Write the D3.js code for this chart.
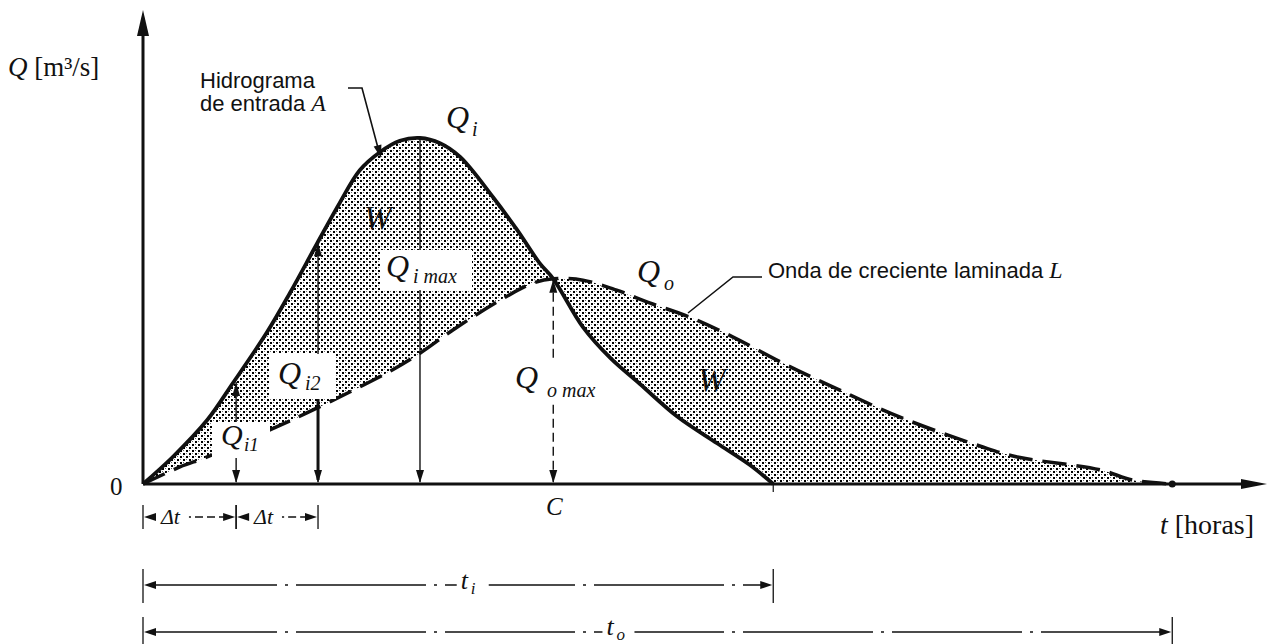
<!DOCTYPE html>
<html>
<head>
<meta charset="utf-8">
<script src="https://cdnjs.cloudflare.com/ajax/libs/d3/7.8.5/d3.min.js"></script>
<style>
  body { margin: 0; background: #fff; }
  svg { display: block; }
  .sans { font-family: "Liberation Sans", Arial, sans-serif; }
  .ser { font-family: "Liberation Serif", "Times New Roman", serif; }
</style>
</head>
<body>
<div id="main"></div>
<script>

// inflow hydrograph A  (t in hours, Q in m3/s)
var tIn = [0, 0.37, 0.80, 1.12, 1.54, 1.83, 2.17, 2.45, 2.70, 2.95, 3.20, 3.45, 3.70, 3.95, 4.36, 4.66, 4.94, 5.11, 5.48, 5.82, 6.19, 6.65, 7.15, 7.56, 7.85];
var qIn = [0, 5.7, 13.5, 21.3, 31.9, 40.3, 50.8, 59.3, 66.2, 70.0, 72.4, 73.0, 71.9, 69.0, 60.5, 53.6, 46.6, 43.3, 33.1, 26.6, 21.1, 14.3, 8.6, 4.0, 0];

// laminated flood wave L
var tOut = [0, 0.46, 0.80, 1.58, 2.04, 2.62, 3.11, 3.45, 3.86, 4.45, 4.86, 5.11, 5.48, 5.90, 6.31, 6.81, 7.35, 7.97, 8.59, 9.43, 10.46, 10.89, 11.92, 12.33, 12.82];
var qOut = [0, 3.6, 5.7, 11.4, 15.0, 19.8, 24.1, 27.6, 32.5, 38.8, 42.4, 43.3, 43.0, 40.9, 38.2, 35.2, 31.0, 25.5, 20.5, 14.1, 7.8, 5.7, 3.0, 0.8, 0];

// ordinates: Qi1, Qi2, Qi max, Qo max
var ordT = [1.16, 2.18, 3.45, 5.11];
var ordQ = [21.5, 51.0, 73.0, 43.3];

// dimension marks
var dtTicks = [0, 1.16, 2.18];
var tiEnd = 7.85;
var toEnd = 12.82;

var W = 1270, H = 644;

var svg = d3.select("#main").append("svg")
  .attr("width", W)
  .attr("height", H);

var x = d3.scaleLinear().domain([0, 14]).range([143, 1267]);
var y = d3.scaleLinear().domain([0, 100]).range([484, 10]);

var ink = "#111";

// stipple pattern for the W areas
var defs = svg.append("defs");
var pat = defs.append("pattern")
  .attr("id", "dots")
  .attr("patternUnits", "userSpaceOnUse")
  .attr("width", 6)
  .attr("height", 6);
pat.append("rect").attr("x", 0).attr("y", 0).attr("width", 2).attr("height", 2).attr("fill", "#000");
pat.append("rect").attr("x", 3).attr("y", 3).attr("width", 2).attr("height", 2).attr("fill", "#000");
pat.append("rect").attr("x", 3).attr("y", 0).attr("width", 1).attr("height", 1).attr("fill", "#666");
pat.append("rect").attr("x", 0).attr("y", 3).attr("width", 1).attr("height", 1).attr("fill", "#777");

var inPts = tIn.map(function(t, i) { return [t, qIn[i]]; });
var outPts = tOut.map(function(t, i) { return [t, qOut[i]]; });

var smooth = d3.curveCatmullRom.alpha(0.5);

var area = d3.area()
  .x(function(d) { return x(d[0]); })
  .y0(y(0))
  .y1(function(d) { return y(d[1]); })
  .curve(smooth);

var line = d3.line()
  .x(function(d) { return x(d[0]); })
  .y(function(d) { return y(d[1]); })
  .curve(smooth);

// area between the two waves = symmetric difference of the areas under them
svg.append("path")
  .attr("d", area(inPts) + area(outPts))
  .attr("fill", "url(#dots)")
  .attr("fill-rule", "evenodd");

// arrow head helper, tip at (px,py), pointing along angle (deg)
function head(px, py, ang, len, half, col) {
  var a = ang * Math.PI / 180;
  var dx = Math.cos(a), dy = Math.sin(a);
  var bx = px - dx * len, by = py - dy * len;
  var pts = [[px, py], [bx - dy * half, by + dx * half], [bx + dy * half, by - dx * half]];
  svg.append("polygon")
    .attr("points", pts.map(function(p) { return p.join(","); }).join(" "))
    .attr("fill", col || ink);
}

// axes
svg.append("line")
  .attr("x1", x(0)).attr("y1", y(0))
  .attr("x2", x(0)).attr("y2", 30)
  .attr("stroke", ink).attr("stroke-width", 3);
head(x(0), 10, -90, 26, 6);

svg.append("line")
  .attr("x1", x(0)).attr("y1", y(0))
  .attr("x2", 1245).attr("y2", y(0))
  .attr("stroke", ink).attr("stroke-width", 3);
head(1267, y(0), 0, 26, 5);

// small tick where the inflow ends
svg.append("line")
  .attr("x1", x(tiEnd)).attr("y1", y(0))
  .attr("x2", x(tiEnd)).attr("y2", y(0) + 8)
  .attr("stroke", ink).attr("stroke-width", 1.2);

// ordinates
ordT.forEach(function(t, i) {
  var px = x(t);
  var top = y(ordQ[i]);
  var l = svg.append("line")
    .attr("x1", px).attr("y1", top)
    .attr("x2", px).attr("y2", y(0) - 2)
    .attr("stroke", ink)
    .attr("stroke-width", 1.4);
  if (i == 3) l.attr("stroke-dasharray", "9,5");
  if (i == 1) {
    // lower part of Qi2 drawn heavy
    svg.append("line")
      .attr("x1", px).attr("y1", 398)
      .attr("x2", px).attr("y2", y(0) - 4)
      .attr("stroke", ink).attr("stroke-width", 3);
  }
  head(px, y(0) - 1, 90, 13, 4);
  if (i != 2) head(px, top + 1, -90, 13, 4);
});

// waves
svg.append("path")
  .attr("d", line(outPts))
  .attr("fill", "none")
  .attr("stroke", ink)
  .attr("stroke-width", 3.5)
  .attr("stroke-dasharray", "24,10");

svg.append("path")
  .attr("d", line(inPts))
  .attr("fill", "none")
  .attr("stroke", ink)
  .attr("stroke-width", 3.8);

svg.append("circle")
  .attr("cx", x(toEnd)).attr("cy", y(0))
  .attr("r", 3.5).attr("fill", ink);

// white boxes behind the ordinate labels
var boxes = [[212, 422, 58, 36], [270, 354, 66, 45], [380, 250, 92, 40], [510, 362, 90, 40]];
boxes.forEach(function(b) {
  svg.append("rect")
    .attr("x", b[0]).attr("y", b[1])
    .attr("width", b[2]).attr("height", b[3])
    .attr("fill", "#fff");
});

// label with italic main letter and subscript
function lab(px, py, main, sub, sx, sy, size, subSize) {
  var t = svg.append("text")
    .attr("class", "ser")
    .attr("fill", ink)
    .attr("font-style", "italic");
  t.append("tspan")
    .attr("x", px).attr("y", py)
    .attr("font-size", size)
    .text(main);
  if (sub) {
    t.append("tspan")
      .attr("x", px + sx).attr("y", py + sy)
      .attr("font-size", subSize)
      .text(sub);
  }
}

lab(446, 128, "Q", "i", 26, 8, 32, 20);
lab(386, 277, "Q", "i  max", 27, 6, 32, 20);
lab(637, 282, "Q", "o", 27, 8, 32, 20);
lab(515, 388, "Q", "o max", 32, 9, 32, 20);
lab(278, 384, "Q", "i2", 27, 6, 32, 20);
lab(221, 445, "Q", "i1", 23, 6, 30, 19);
lab(364, 229, "W", null, 0, 0, 33, 0);
lab(698, 391, "W", null, 0, 0, 33, 0);
lab(546, 515, "C", null, 0, 0, 25, 0);

svg.append("text")
  .attr("class", "ser")
  .attr("x", 110).attr("y", 495)
  .attr("font-size", 25)
  .attr("fill", ink)
  .text("0");

// axis titles
var qt = svg.append("text").attr("class", "ser").attr("x", 8).attr("y", 76).attr("font-size", 27).attr("fill", ink);
qt.append("tspan").attr("font-style", "italic").text("Q");
qt.append("tspan").text(" [m³/s]");

var tt = svg.append("text").attr("class", "ser").attr("x", 1160).attr("y", 534).attr("font-size", 28).attr("fill", ink);
tt.append("tspan").attr("font-style", "italic").text("t");
tt.append("tspan").text(" [horas]");

// callouts
var h1 = svg.append("text").attr("class", "sans").attr("font-size", 22).attr("fill", ink);
h1.append("tspan").attr("x", 200).attr("y", 88).text("Hidrograma");
var h2 = svg.append("text").attr("class", "sans").attr("font-size", 22).attr("fill", ink)
  .attr("x", 200).attr("y", 111);
h2.append("tspan").text("de entrada ");
h2.append("tspan").attr("class", "ser").attr("font-style", "italic").attr("font-size", 24).text("A");

svg.append("polyline")
  .attr("points", "348,88 362,88 378,148")
  .attr("fill", "none").attr("stroke", ink).attr("stroke-width", 1.6);
head(381, 158, 74.6, 13, 4);

var o1 = svg.append("text").attr("class", "sans").attr("font-size", 22).attr("fill", ink)
  .attr("x", 768).attr("y", 278);
o1.append("tspan").text("Onda de creciente laminada ");
o1.append("tspan").attr("class", "ser").attr("font-style", "italic").attr("font-size", 24).text("L");

svg.append("polyline")
  .attr("points", "762,277 733,277 688,313")
  .attr("fill", "none").attr("stroke", ink).attr("stroke-width", 1.6);

// dimension lines below the axis
function dim(a, b, py, tick0, tick1, label, sub, frac, size, dash, lift) {
  var xa = x(a), xb = x(b);
  svg.append("line")
    .attr("x1", xa + 4).attr("y1", py)
    .attr("x2", xb - 4).attr("y2", py)
    .attr("stroke", ink).attr("stroke-width", 1.6)
    .attr("stroke-dasharray", dash);
  head(xa + 1, py, 180, 12, 4);
  head(xb - 1, py, 0, 12, 4);
  [xa, xb].forEach(function(px) {
    svg.append("line")
      .attr("x1", px).attr("y1", tick0)
      .attr("x2", px).attr("y2", tick1)
      .attr("stroke", ink).attr("stroke-width", 1.3);
  });
  var cx = xa + (xb - xa) * frac;
  svg.append("rect")
    .attr("x", cx - 14).attr("y", py - 16)
    .attr("width", 32).attr("height", 26)
    .attr("fill", "#fff");
  lab(cx - 10, py + lift, label, sub, 10, 5, size, 17);
}

dim(dtTicks[0], dtTicks[1], 517, 505, 529, "Δt", null, 0.30, 22, "8,4", 7);
dim(dtTicks[1], dtTicks[2], 517, 505, 529, "Δt", null, 0.34, 22, "8,4", 7);
dim(0, tiEnd, 585, 569, 603, "t", "i", 0.52, 26, "130,8,3,8", 4);
dim(0, toEnd, 632, 617, 644, "t", "o", 0.46, 26, "130,8,3,8", 3);

</script>
</body>
</html>
